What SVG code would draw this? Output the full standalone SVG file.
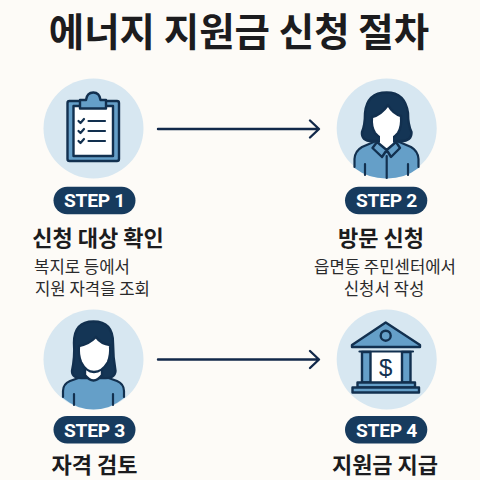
<svg xmlns="http://www.w3.org/2000/svg" width="480" height="480" viewBox="0 0 480 480">
<style>
text{font-family:"Noto Sans CJK KR","Noto Sans",sans-serif;text-anchor:middle;fill:#1c1c1e}
.title{font-size:38.500px;font-weight:700}
.head{font-size:22px;font-weight:700}
.body{font-size:16.700px;font-weight:400;fill:#2a2a2c}
.pillt{font-family:Roboto,"Liberation Sans",sans-serif;font-size:19.200px;font-weight:700;fill:#fff;letter-spacing:-0.300px}
.pill{fill:#173b5e}
.bg{fill:#d7e7f1}
.k{stroke:#12304f;stroke-width:2.400;stroke-linejoin:round;stroke-linecap:round}
.blue{fill:#659fc8}
.dark{fill:#143555}
.w{fill:#fff}
.ln{fill:none;stroke:#12304f;stroke-width:2.200;stroke-linecap:round;stroke-linejoin:round}
.conn{fill:none;stroke:#12294a;stroke-width:2.400;stroke-linecap:round;stroke-linejoin:round}
</style>
<rect width="480" height="480" fill="#fdfbf7"/>
<text class="title" x="239" y="46">에너지 지원금 신청 절차</text>
<g id="connectors">
<path class="conn" d="M158 129H318M310 120.500L319 129L310 137.500"/>
<path class="conn" d="M158 359.500H318M310 351L319 359.500L310 368"/>
</g>
<g id="step1">
<circle class="bg" cx="93.500" cy="128.500" r="50"/>
<rect class="blue k" x="67.500" y="101" width="51.500" height="60" rx="2"/>
<rect class="w k" x="73.500" y="106" width="39.500" height="50" stroke-width="2"/>
<path class="blue k" d="M80 108.500V100H86Q87 92.500 93.300 92.500Q99.500 92.500 100.500 100H106V108.500Z"/>
<path class="ln" d="M78.500 121L80.500 123L84 119M78.500 131L80.500 133L84 129M78.500 141L80.500 143L84 139"/>
<path class="ln" d="M88.500 121H105M88.500 131H105M88.500 141H105"/>
<rect class="pill" x="53.500" y="186.700" width="82" height="27.600" rx="13.800"/>
<text class="pillt" x="94.500" y="207.300">STEP 1</text>
<text class="head" x="98" y="246">신청 대상 확인</text>
<text class="body" x="82" y="273">복지로 등에서</text>
<text class="body" x="92.500" y="295">지원 자격을 조회</text>
</g>
<g id="step2">
<circle class="bg" cx="386.700" cy="128.500" r="50"/>
<path class="blue" d="M354.500 168V159Q355 151 362 147L376 141H397L411 147Q418 151 418.500 159V168Q405 178.500 386.700 178.500Q368 178.500 354.500 168Z"/>
<path class="ln" d="M354.500 167V159Q355 151 362 147L376 141H397L411 147Q418 151 418.500 159V167"/>
<path class="ln" d="M386.700 156V178M365 164V175M408 164V175"/>
<path class="dark k" d="M386.700 92.500Q367 92.500 365 113Q365 125 362 132Q361 141 372 141H401Q412 141 411.500 132Q408 125 408 113Q405 92.500 386.700 92.500Z"/>
<path class="w k" d="M372 117Q381 115 388 105Q393 114 401 116Q402 127 398 133Q392 140 386.700 140Q381 140 375 133Q371 127 372 117Z"/>
<path class="w" d="M380 136H393V146L386.700 150L380 146Z"/>
<path class="blue k" d="M377 142L386.700 150L396 142L400 148L391 157L386.700 150L382 157L372.500 148Z"/>
<rect class="pill" x="345" y="186.700" width="82.300" height="27.600" rx="13.800"/>
<text class="pillt" x="386.500" y="207.300">STEP 2</text>
<text class="head" x="381" y="246">방문 신청</text>
<text class="body" x="385" y="273">읍면동 주민센터에서</text>
<text class="body" x="384" y="295">신청서 작성</text>
</g>
<g id="step3">
<circle class="bg" cx="93.500" cy="359.500" r="50"/>
<path class="blue" d="M63 398V391Q63 384 70 381L84 376H103L117 381Q124 384 124 391V398Q110 409.500 93.500 409.500Q77 409.500 63 398Z"/>
<path class="ln" d="M63 397V391Q63 384 70 381L84 376H103L117 381Q124 384 124 391V397"/>
<path class="ln" d="M74 394V405M113 394V405"/>
<path class="dark k" d="M93.500 321.500Q74 321.500 74 343Q75 357 72 371Q72 379 84 378H103Q115 379 115.500 371Q113 357 113 343Q113 321.500 93.500 321.500Z"/>
<path class="w k" d="M85 366V375Q93.500 386 102 375V366Z"/>
<path class="w k" d="M79 346Q88 345 96 337Q101 344 110 345Q111 354 108 362Q102 372 94 372Q86 372 81 362Q78 354 79 346Z"/>
<rect class="pill" x="53.500" y="416" width="82" height="27.400" rx="13.700"/>
<text class="pillt" x="94.500" y="436.500">STEP 3</text>
<text class="head" x="94.500" y="472.500">자격 검토</text>
</g>
<g id="step4">
<circle class="bg" cx="386.700" cy="359.500" r="50"/>
<path class="blue k" d="M385.700 322.500L352 345V347H420V345Z"/>
<circle class="blue k" cx="385.700" cy="335.700" r="5"/>
<rect class="w" x="370" y="352" width="32" height="31"/>
<path class="ln" d="M359.500 351.500H413"/>
<rect class="blue k" x="362" y="352" width="8.500" height="30.500"/>
<rect class="blue k" x="402" y="352" width="8.500" height="30.500"/>
<rect class="blue k" x="357.500" y="382.500" width="57.500" height="5"/>
<rect class="blue k" x="352.500" y="387.500" width="66.500" height="5"/>
<text x="385.700" y="376" style="font-family:'Liberation Sans',sans-serif;font-size:24px;fill:#12304f">$</text>
<rect class="pill" x="345" y="416" width="82.300" height="27.400" rx="13.700"/>
<text class="pillt" x="386.500" y="436.500">STEP 4</text>
<text class="head" x="385" y="472.500">지원금 지급</text>
</g>
</svg>
